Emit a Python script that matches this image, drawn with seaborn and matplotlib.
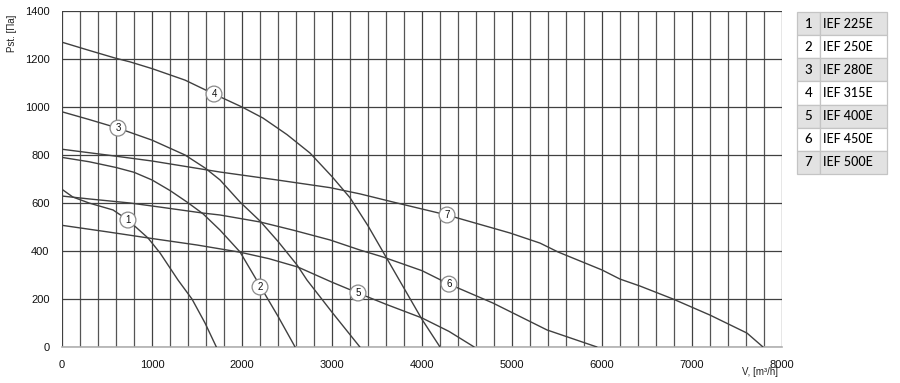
import numpy as np
import pandas as pd
import seaborn as sns
import matplotlib.pyplot as plt
from matplotlib.patches import Rectangle

# ---- data ----
models = ["IEF 225E", "IEF 250E", "IEF 280E", "IEF 315E", "IEF 400E", "IEF 450E", "IEF 500E"]
numbers = ["1", "2", "3", "4", "5", "6", "7"]

c1_v = [0, 120, 300, 567, 733, 956, 1089, 1289, 1444, 1589, 1715]
c1_p = [657, 625, 600, 571, 529, 454, 392, 279, 200, 100, 0]

c2_v = [0, 300, 600, 800, 1000, 1200, 1389, 1567, 1756, 1978, 2200, 2400, 2590]
c2_p = [790, 772, 748, 728, 696, 652, 604, 555, 487, 396, 255, 128, 0]

c3_v = [0, 300, 622, 1000, 1367, 1589, 1756, 1978, 2200, 2400, 2611, 2722, 3000, 3310]
c3_p = [980, 948, 912, 862, 800, 746, 696, 604, 525, 440, 342, 279, 145, 0]

c4_v = [0, 300, 589, 756, 1000, 1367, 1689, 2000, 2233, 2500, 2756, 3000, 3200, 3400, 3600, 3800, 4000, 4200]
c4_p = [1270, 1236, 1204, 1188, 1160, 1112, 1054, 1000, 954, 885, 808, 710, 622, 505, 375, 245, 115, 0]

c5_v = [0, 500, 1000, 1500, 1978, 2300, 2622, 3000, 3289, 3600, 4000, 4300, 4580]
c5_p = [507, 480, 452, 425, 395, 368, 333, 270, 225, 178, 121, 65, 0]

c6_v = [0, 300, 756, 1089, 1567, 1756, 2200, 2567, 2978, 3311, 3567, 4000, 4300, 4789, 5389, 5944]
c6_p = [629, 617, 600, 583, 558, 550, 521, 487, 446, 404, 375, 318, 262, 183, 71, 0]

c7_v = [0, 500, 1000, 1756, 2389, 2978, 3311, 3722, 4278, 4978, 5311, 5511, 6000, 6200, 6422, 6789, 7200, 7611, 7789]
c7_p = [824, 800, 775, 729, 696, 664, 638, 600, 550, 475, 433, 396, 321, 283, 254, 200, 133, 58, 0]

label_v = [733, 2200, 622, 1689, 3289, 4300, 4278]
label_p = [529, 250, 912, 1054, 225, 262, 550]

x_ticks = [0, 1000, 2000, 3000, 4000, 5000, 6000, 7000, 8000]
y_ticks = [0, 200, 400, 600, 800, 1000, 1200, 1400]

curves_v = [c1_v, c2_v, c3_v, c4_v, c5_v, c6_v, c7_v]
curves_p = [c1_p, c2_p, c3_p, c4_p, c5_p, c6_p, c7_p]

rows = []
for m, vs, ps in zip(models, curves_v, curves_p):
    for v, p in zip(vs, ps):
        rows.append({"model": m, "V": v, "P": p})
df = pd.DataFrame(rows)

# ---- figure ----
sns.set_theme(style="white")
plt.rcParams["font.family"] = ["Liberation Sans", "DejaVu Sans"]

W, H = 900, 383
fig = plt.figure(figsize=(W / 100, H / 100), dpi=100)
ax = fig.add_axes([62 / W, 1 - 347 / H, 720 / W, 336 / H])

sns.lineplot(data=df, x="V", y="P", hue="model",
             palette={m: "#404040" for m in models},
             estimator=None, sort=False, legend=False, lw=1.0, ax=ax, zorder=3)

ax.set_xlim(0, 8000)
ax.set_ylim(0, 1400)
ax.set_xticks(x_ticks)
ax.set_xticks(np.arange(0, 8001, 200), minor=True)
ax.set_yticks(y_ticks)
ax.grid(True, which="major", axis="both", color="#404040", lw=0.9)
ax.grid(True, which="minor", axis="x", color="#555555", lw=0.9)
for s in ["top", "right", "left"]:
    ax.spines[s].set_visible(False)
ax.spines["bottom"].set_color("#b0b0b0")
ax.spines["bottom"].set_linewidth(1.2)
ax.tick_params(axis="both", which="both", length=0, labelsize=8, colors="#111111")
ax.tick_params(axis="x", pad=9)
ax.tick_params(axis="y", pad=9)
ax.set_xlabel("")
ax.set_ylabel("")

# curve number markers
for n, v, p in zip(numbers, label_v, label_p):
    ax.text(v, p, n, ha="center", va="center", fontsize=7, color="#111111",
            zorder=5,
            bbox=dict(boxstyle="circle,pad=0.3", fc="white", ec="#8a8a8a", lw=0.9))

fig.text(12 / W, 1 - 33 / H, "Pst. [Па]", rotation=90, ha="center", va="center",
         fontsize=7, color="#222222")
fig.text(760 / W, 1 - 372 / H, "V, [m³/h]", ha="center", va="center",
         fontsize=7, color="#222222")

# legend table
tx0, tx1, tx2 = 797, 820, 887
ty0, rh = 12, 23.15
for i, (n, m) in enumerate(zip(numbers, models)):
    top = ty0 + i * rh
    fc = "#e2e2e2" if i % 2 == 0 else "white"
    for (a, b) in [(tx0, tx1), (tx1, tx2)]:
        fig.patches.append(Rectangle((a / W, 1 - (top + rh) / H), (b - a) / W, rh / H,
                                     transform=fig.transFigure, fc=fc, ec="#c4c4c4",
                                     lw=0.9))
    fig.text((tx0 + tx1) / 2 / W, 1 - (top + rh / 2) / H, n, ha="center", va="center",
             fontsize=9.5, family=["Lato", "DejaVu Sans"], weight="medium", color="#000000")
    fig.text((tx1 + 3) / W, 1 - (top + rh / 2) / H, m, ha="left", va="center",
             fontsize=9, family=["Lato", "DejaVu Sans"], weight="medium", color="#000000")

fig.savefig("out.png", dpi=100)
